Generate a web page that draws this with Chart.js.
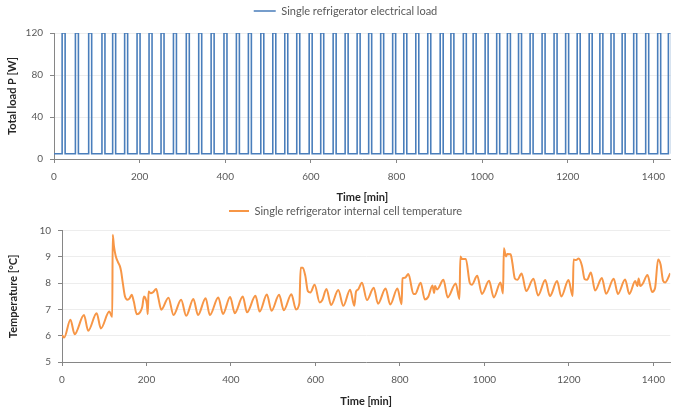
<!DOCTYPE html>
<html>
<head>
<meta charset="utf-8">
<script src="https://cdn.jsdelivr.net/npm/chart.js@4.4.1/dist/chart.umd.min.js"></script>
<style>
  html, body { margin: 0; padding: 0; background: #fff; }
  #wrap { position: relative; width: 673px; height: 409px; overflow: hidden; }
  #wrap div { position: absolute; left: 0; width: 673px; }
</style>
</head>
<body>
<div id="wrap">
  <div style="top:0;height:205px"><canvas id="chartLoad" width="673" height="205"></canvas></div>
  <div style="top:200px;height:209px"><canvas id="chartTemp" width="673" height="209"></canvas></div>
</div>
<script>
// compressor switching times [min] and power levels [W]
const pulseOn = [19, 50, 81, 112, 137, 165, 194, 222, 250, 279, 309, 338, 367, 397, 426, 454, 483, 511, 539, 567,
  596, 623, 652, 680, 708, 735, 763, 791, 817, 845, 873, 902, 927, 956, 979, 1007, 1034, 1059, 1085, 1112,
  1140, 1168, 1195, 1222, 1250, 1275, 1301, 1327, 1354, 1382, 1410, 1435];
const pulseOff = [26, 57, 88, 119, 144, 172, 201, 229, 257, 286, 316, 345, 374, 404, 433, 461, 490, 518, 546, 574,
  603, 630, 659, 687, 715, 742, 770, 798, 824, 852, 880, 909, 934, 963, 986, 1014, 1041, 1066, 1092, 1119,
  1147, 1175, 1202, 1229, 1257, 1282, 1308, 1334, 1361, 1389, 1417, 1442];
const loadOn = 120;
const loadIdle = 5;

// internal cell temperature
const tempTime = [0, 5, 20, 30, 52, 62, 82, 92, 112, 117, 119, 120, 123, 127, 132, 137, 140, 144, 149, 155,
  160, 165, 170, 177, 185, 190, 194, 197, 201, 203, 205, 210, 215, 223, 228, 235, 252, 264, 282, 294,
  311, 322, 340, 350, 370, 381, 398, 409, 428, 438, 458, 468, 485, 496, 514, 525, 543, 554, 562, 565,
  570, 576, 582, 588, 598, 610, 616, 626, 637, 654, 666, 682, 692, 696, 701, 710, 722, 738, 748, 766,
  777, 794, 804, 806, 812, 820, 832, 836, 849, 859, 867, 877, 881, 883, 888, 903, 913, 932, 941, 943,
  947, 956, 965, 970, 983, 994, 1011, 1022, 1038, 1044, 1046, 1051, 1054, 1062, 1066, 1072, 1078, 1088, 1099, 1116,
  1127, 1144, 1155, 1172, 1182, 1199, 1209, 1211, 1217, 1223, 1231, 1237, 1243, 1252, 1262, 1278, 1288, 1306, 1316, 1333,
  1343, 1357, 1362, 1365, 1369, 1374, 1386, 1397, 1404, 1411, 1417, 1423, 1428, 1440];
const tempValue = [6.02, 5.93, 6.61, 6.06, 6.79, 6.19, 6.86, 6.28, 6.92, 6.76, 6.72, 9.85, 9.4, 9.05, 8.82, 8.65, 8.45, 8.0, 7.5, 7.37,
  7.42, 7.56, 7.3, 6.82, 6.9, 7.1, 7.49, 7.45, 7.2, 6.82, 7.68, 7.62, 7.65, 7.78, 7.45, 6.99, 7.45, 6.79, 7.37, 6.76,
  7.4, 6.79, 7.43, 6.79, 7.46, 6.83, 7.48, 6.86, 7.49, 6.89, 7.52, 6.92, 7.57, 6.95, 7.56, 6.97, 7.58, 7.0, 7.24, 8.59,
  8.59, 8.28, 7.7, 7.65, 7.94, 7.27, 7.35, 7.78, 7.17, 7.74, 7.14, 7.75, 7.14, 7.68, 7.76, 8.02, 7.36, 7.83, 7.22, 7.8,
  7.19, 7.8, 7.2, 8.19, 8.21, 8.35, 7.59, 7.59, 8.02, 7.38, 7.48, 7.91, 7.63, 7.89, 7.76, 8.13, 7.46, 7.99, 7.4, 9.02,
  8.92, 8.92, 8.03, 7.94, 8.28, 7.59, 8.09, 7.46, 8.03, 7.61, 9.33, 9.02, 9.11, 9.1, 8.79, 8.18, 8.13, 8.37, 7.7, 8.17,
  7.53, 8.12, 7.51, 8.08, 7.49, 8.12, 7.51, 8.9, 8.88, 8.94, 8.66, 8.16, 8.13, 8.41, 7.72, 8.2, 7.6, 8.17, 7.59, 8.14,
  7.59, 8.08, 7.89, 8.18, 7.89, 7.96, 8.31, 7.67, 7.82, 8.9, 8.71, 8.09, 8.03, 8.38];

const timeTicks = [0, 200, 400, 600, 800, 1000, 1200, 1400];
const axisGrey = '#868686';

Chart.defaults.font.family = "Lato, 'Liberation Sans', sans-serif";
Chart.defaults.font.size = 10;
Chart.defaults.color = '#595959';

// extra room under the legend + small horizontal nudge
const legendPlace = {
  id: 'legendPlace',
  afterInit(chart, args, opts) {
    if (!chart.legend) return;
    const fit = chart.legend.fit;
    chart.legend.fit = function () { fit.call(this); this.height += opts.gap || 0; };
  },
  afterLayout(chart, args, opts) {
    if (!chart.legend) return;
    chart.legend.left += opts.shift || 0;
    chart.legend.right += opts.shift || 0;
  }
};

function timeAxis(height, titlePad) {
  return {
    type: 'linear', min: 0, max: 1440,
    afterBuildTicks: s => { s.ticks = timeTicks.map(v => ({ value: v })); },
    ticks: { padding: 8, maxRotation: 0, callback: v => String(v) },
    grid: { drawOnChartArea: false, tickLength: 4, tickColor: axisGrey },
    border: { color: axisGrey },
    title: { display: true, text: 'Time [min]', color: '#262626', font: { size: 11, weight: 'bold' }, padding: { top: 0, bottom: titlePad } },
    afterFit: s => { s.height = height; }
  };
}

function valueAxis(min, max, step, title, width, titlePad) {
  return {
    min: min, max: max,
    ticks: { stepSize: step, padding: 7, callback: v => String(v) },
    grid: { color: '#EDEDED', tickLength: 4, tickColor: axisGrey },
    border: { color: axisGrey },
    title: { display: true, text: title, color: '#262626', font: { size: 11, weight: 'bold' }, padding: { top: titlePad, bottom: 0 } },
    afterFit: s => { s.width = width; }
  };
}

// step series: idle level, jump to full load at each switch-on
const loadPoints = [{ x: 0, y: loadIdle }];
pulseOn.forEach((t, i) => {
  loadPoints.push({ x: t, y: loadOn });
  loadPoints.push({ x: pulseOff[i], y: loadIdle });
});

const tempPoints = tempTime.map((t, i) => ({ x: t, y: tempValue[i] }));

const chartLoad = new Chart(document.getElementById('chartLoad'), {
  type: 'line',
  data: {
    datasets: [{
      label: 'Single refrigerator electrical load',
      data: loadPoints,
      borderColor: '#4A7EBB',
      backgroundColor: '#4A7EBB',
      borderWidth: 1.6,
      pointRadius: 0,
      stepped: true
    }]
  },
  options: {
    responsive: false,
    animation: false,
    devicePixelRatio: 1,
    layout: { padding: 0 },
    plugins: {
      legend: { labels: { boxWidth: 22, boxHeight: 0, padding: 5.5, color: '#595959', font: { size: 11 } } },
      tooltip: { enabled: false },
      legendPlace: { gap: 6.5, shift: 9 }
    },
    scales: {
      x: timeAxis(46, 1.4),
      y: valueAxis(0, 120, 40, 'Total load P [W]', 54, 5.4)
    }
  },
  plugins: [legendPlace]
});

const chartTemp = new Chart(document.getElementById('chartTemp'), {
  type: 'line',
  data: {
    datasets: [{
      label: 'Single refrigerator internal cell temperature',
      data: tempPoints,
      borderColor: '#F79646',
      backgroundColor: '#F79646',
      borderWidth: 2,
      pointRadius: 0,
      cubicInterpolationMode: 'monotone'
    }]
  },
  options: {
    responsive: false,
    animation: false,
    devicePixelRatio: 1,
    layout: { padding: 0 },
    plugins: {
      legend: { labels: { boxWidth: 20, boxHeight: 0, padding: 5.5, color: '#595959', font: { size: 11 } } },
      tooltip: { enabled: false },
      legendPlace: { gap: 4.2, shift: 9 }
    },
    scales: {
      x: timeAxis(47, 0.7),
      y: valueAxis(5, 10, 1, 'Temperature [°C]', 62, 6.7)
    }
  },
  plugins: [legendPlace]
});
</script>
</body>
</html>
